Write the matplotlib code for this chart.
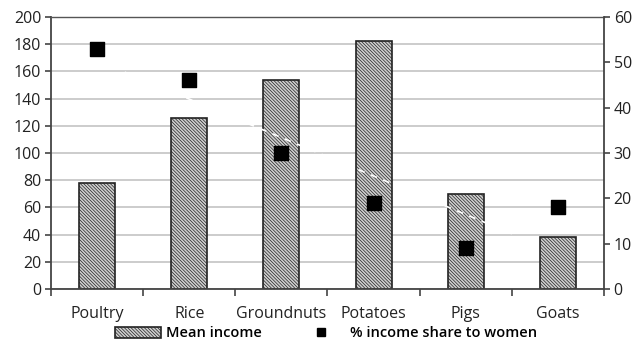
import numpy as np
import matplotlib
matplotlib.use("Agg")
import matplotlib.pyplot as plt
from matplotlib.patches import Patch
from matplotlib.lines import Line2D

plt.rcParams['font.family'] = ['Open Sans', 'DejaVu Sans']
plt.rcParams['hatch.color'] = '#404040'
plt.rcParams['hatch.linewidth'] = 0.5

categories = ["Poultry", "Rice", "Groundnuts", "Potatoes", "Pigs", "Goats"]
mean_income = [78, 126, 154, 182, 70, 38.5]
women_share = [53, 46, 30, 19, 9, 18]

HATCH = '\\' * 10

fig = plt.figure(figsize=(6.34, 3.5), dpi=100)
ax = fig.add_axes([51 / 634, 1 - 289 / 350, (604 - 51) / 634, (289 - 17) / 350])
ax2 = ax.twinx()

x = np.arange(len(categories))
ax.bar(x, mean_income, width=0.39, facecolor='#cfcfcf', edgecolor='#222222',
       linewidth=1.2, hatch=HATCH, zorder=2)

ax.set_xlim(-0.5, len(categories) - 0.5)
ax.set_ylim(0, 200)
ax.set_yticks(np.arange(0, 201, 20))
ax.yaxis.grid(True, color='#c8c8c8', linewidth=1.3, zorder=0)
ax.set_axisbelow(True)

ax.set_xticks(x)
ax.set_xticklabels(categories)
ax.set_xticks(np.arange(-0.5, len(categories), 1), minor=True)
ax.tick_params(axis='x', which='major', length=0, pad=12, labelsize=11.5, colors='#222222')
ax.tick_params(axis='x', which='minor', length=5, width=1.2, color='#444444')
ax.tick_params(axis='y', length=4, width=1.2, color='#444444', labelsize=11.5,
               labelcolor='#222222', pad=3)

for side in ['left', 'bottom']:
    ax.spines[side].set_color('#444444')
    ax.spines[side].set_linewidth(1.3)
ax.spines['top'].set_color('#555555')
ax.spines['top'].set_linewidth(1.0)
ax.spines['right'].set_visible(False)

# secondary axis: share of income going to women
ax2.set_ylim(0, 60)
ax2.set_yticks(np.arange(0, 61, 10))
ax2.tick_params(axis='y', length=4, width=1.2, color='#444444', labelsize=11.5,
                labelcolor='#222222', pad=3)
for side in ['left', 'bottom', 'top']:
    ax2.spines[side].set_visible(False)
ax2.spines['right'].set_color('#444444')
ax2.spines['right'].set_linewidth(1.3)

# faint white linear trend of the share series
coef = np.polyfit(x, women_share, 1)
xt = np.linspace(0.3, 4.5, 50)
ax2.plot(xt, np.polyval(coef, xt), color='white', linewidth=1.2,
         linestyle=(0, (4, 4)), zorder=3)

ax2.scatter(x, women_share, marker='s', s=110, color='black', zorder=4)

handles = [
    Patch(facecolor='#cfcfcf', edgecolor='#222222', hatch=HATCH, linewidth=1.2),
    Line2D([], [], marker='s', linestyle='none', color='black', markersize=6),
]
fig.legend(handles, ["Mean income", "% income share to women"], loc='lower center',
           bbox_to_anchor=(0.514, -0.01), ncol=2, frameon=False,
           handlelength=3.15, handleheight=0.8, columnspacing=2.5, handletextpad=0.35,
           prop={'weight': 'semibold', 'size': 10.5})

fig.savefig("out.png", dpi=100)
